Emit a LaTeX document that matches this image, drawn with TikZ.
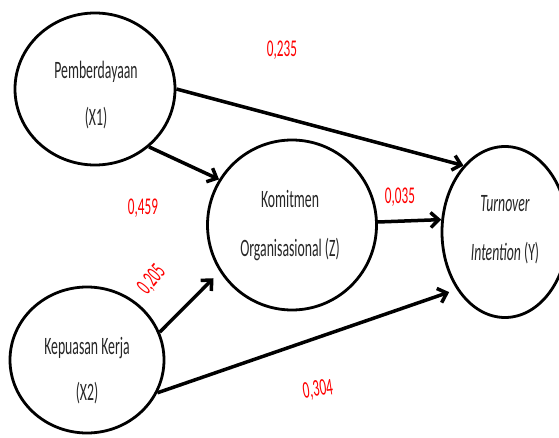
\documentclass[tikz,border=0pt]{standalone}
\usepackage{fontspec}
\setmainfont{Carlito}[FakeStretch=0.55]
\usetikzlibrary{shapes.geometric,arrows.meta}
\begin{document}
\begin{tikzpicture}[x=1pt,y=-1pt,
  ell/.style={draw=black,ellipse,line width=2.8pt,inner sep=0pt},
  txt/.style={text=black!85,font=\fontsize{25}{27}\selectfont,inner sep=0pt},
  coef/.style={text=red,font=\fontsize{24}{26}\selectfont,inner sep=0pt},
  path/.style={line width=3.5pt,-{Straight Barb[length=8pt,width=15pt]}}]
\useasboundingbox (0,0) rectangle (559,438);
\clip (0,0) rectangle (559,438);
\node[ell,minimum width=160pt,minimum height=152pt] (x1) at (95,89) {};
\node[ell,minimum width=169pt,minimum height=170pt] (z) at (292,225) {};
\node[ell,minimum width=126pt,minimum height=171pt] (y) at (505,232) {};
\node[ell,minimum width=154pt,minimum height=146pt] (x2) at (87,360) {};
\node[txt] (t1a) at (96,72) {Pemberdayaan};
\node[txt] (t1b) at (96,118) {(X1)};
\node[txt] (tza) at (290,199) {Komitmen};
\node[txt] (tzb) at (290,250) {Organisasional (Z)};
\node[txt] (tya) at (505,204) {\itshape Turnover};
\node[txt] (tyb) at (505,253) {\textit{Intention} (Y)};
\node[txt] (t2a) at (87,348) {Kepuasan Kerja};
\node[txt] (t2b) at (87,393) {(X2)};
\draw[path] (x1.0) -- (y.122);
\draw[path] (x1.-47) -- (z.148);
\draw[path,shorten >=9pt] (x2.21) -- (z.213);
\draw[path,shorten >=8pt] (x2.-25) -- (y.230);
\draw[path] (z.2) -- (y.169);
\node[coef] (c1) at (282,50) {0,235};
\node[coef] (c2) at (143,208) {0,459};
\node[coef] (c3) at (400,197) {0,035};
\node[coef,rotate=50] (c4) at (152,280) {0,205};
\node[coef,rotate=8] (c5) at (318,390) {0,304};
\end{tikzpicture}
\end{document}
